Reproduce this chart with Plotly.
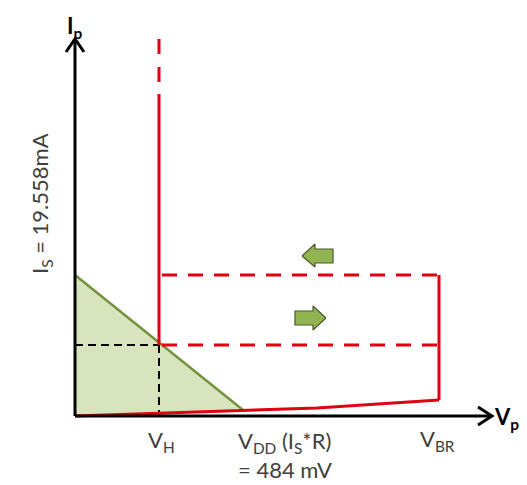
import plotly.graph_objects as go

# Conceptual I-V diagram values (x: voltage units, y: current units)
V_H = 84
V_DD = 168
V_BR = 364
V_AXIS_END = 417
I_HMIN = 71
I_S = 141
I_SOLID_TOP = 322
I_AXIS_END = 377

# Red bottom (off-state) curve
off_v = [0, 242, V_BR]
off_i = [0, 8, 16]

# Load line (green)
load_v = [0, V_DD]
load_i = [I_S, 6]

# Direction arrows (polygons)
left_arrow_v = [227, 240, 240, 258, 258, 240, 240, 227]
left_arrow_i = [160, 172, 167, 167, 153, 153, 149, 160]
right_arrow_v = [251, 238, 238, 220, 220, 238, 238, 251]
right_arrow_i = [98, 110, 105, 105, 91, 91, 86, 98]

RED = "#e0000f"
GREEN_LINE = "#76923c"
GREEN_FILL = "#d7e4bd"
ARROW_FILL = "#92b450"
ARROW_EDGE = "#4a5a30"
TXT = "#404040"

fig = go.Figure()

# green shaded triangle
fig.add_trace(go.Scatter(x=[0, 0, load_v[1], 0], y=[0, load_i[0], load_i[1], 0],
                         mode="lines", fill="toself", fillcolor=GREEN_FILL,
                         line=dict(width=0), hoverinfo="skip"))
# load line
fig.add_trace(go.Scatter(x=load_v, y=load_i, mode="lines",
                         line=dict(color=GREEN_LINE, width=2.5)))

# black dashed guides
fig.add_trace(go.Scatter(x=[0, V_H], y=[I_HMIN, I_HMIN], mode="lines",
                         line=dict(color="black", width=2, dash="8px,5px")))
fig.add_trace(go.Scatter(x=[V_H, V_H], y=[I_HMIN, 0], mode="lines",
                         line=dict(color="black", width=2, dash="8px,5px")))

# red off-state curve and right vertical
fig.add_trace(go.Scatter(x=off_v, y=off_i, mode="lines",
                         line=dict(color=RED, width=3)))
fig.add_trace(go.Scatter(x=[V_BR, V_BR], y=[off_i[-1], I_S], mode="lines",
                         line=dict(color=RED, width=3)))
# red vertical at V_H
fig.add_trace(go.Scatter(x=[V_H, V_H], y=[I_HMIN, I_SOLID_TOP], mode="lines",
                         line=dict(color=RED, width=3)))
fig.add_trace(go.Scatter(x=[V_H, V_H], y=[I_AXIS_END, I_SOLID_TOP], mode="lines",
                         line=dict(color=RED, width=3, dash="15px,13px")))
# red dashed horizontals
for lvl in (I_S, I_HMIN):
    fig.add_trace(go.Scatter(x=[V_H + 3, V_BR], y=[lvl, lvl], mode="lines",
                             line=dict(color=RED, width=3, dash="15px,11px")))

# axes with arrowheads
fig.add_trace(go.Scatter(x=[0, 0], y=[0, I_AXIS_END], mode="lines",
                         line=dict(color="black", width=3)))
fig.add_trace(go.Scatter(x=[-9, 0, 9], y=[I_AXIS_END - 13, I_AXIS_END, I_AXIS_END - 13],
                         mode="lines", line=dict(color="black", width=3)))
fig.add_trace(go.Scatter(x=[0, V_AXIS_END], y=[0, 0], mode="lines",
                         line=dict(color="black", width=3)))
fig.add_trace(go.Scatter(x=[V_AXIS_END - 14, V_AXIS_END, V_AXIS_END - 14], y=[9, 0, -9],
                         mode="lines", line=dict(color="black", width=3)))

# direction arrows
for av, ai in ((left_arrow_v, left_arrow_i), (right_arrow_v, right_arrow_i)):
    fig.add_trace(go.Scatter(x=av, y=ai, mode="lines", fill="toself",
                             fillcolor=ARROW_FILL,
                             line=dict(color=ARROW_EDGE, width=1.2)))

FONT = "Lato, Carlito, Calibri, sans-serif"

def ann(x, y, text, size=22, color=TXT, bold=False, xanchor="center",
        yanchor="middle", angle=0):
    t = f"<b>{text}</b>" if bold else text
    fig.add_annotation(x=x, y=y, xref="x", yref="y", text=t, showarrow=False,
                       xanchor=xanchor, yanchor=yanchor, textangle=angle,
                       borderpad=0,
                       font=dict(family=FONT, size=size, color=color))

ann(0, 373, "I<sub>p</sub>", size=22, color="black", bold=True, yanchor="bottom")
ann(418, -2, "V<sub>p</sub>", size=22, color="black", bold=True, xanchor="left")
ann(-34, 212, "I<sub>S</sub> = 19.558mA", angle=-90)
ann(-78, 82, "I<sub>HMIN</sub>", xanchor="left")
ann(V_H + 2, -25, "V<sub>H</sub>")
ann(V_DD - 6, -26, "V<sub>DD</sub> (I<sub>S</sub>*R)", xanchor="left")
ann(V_DD - 6, -53, "= 484 mV", xanchor="left")
ann(V_BR - 2, -24, "V<sub>BR</sub>")

# page has an 8px body margin: shrink figure and shift ranges so 1 unit = 1 px
fig.update_layout(
    width=519, height=477,
    margin=dict(l=0, r=0, t=0, b=0),
    paper_bgcolor="white", plot_bgcolor="white",
    showlegend=False,
    xaxis=dict(range=[-67, 452], visible=False, fixedrange=True),
    yaxis=dict(range=[-69, 408], visible=False, fixedrange=True),
)

fig.write_html("out.html")
